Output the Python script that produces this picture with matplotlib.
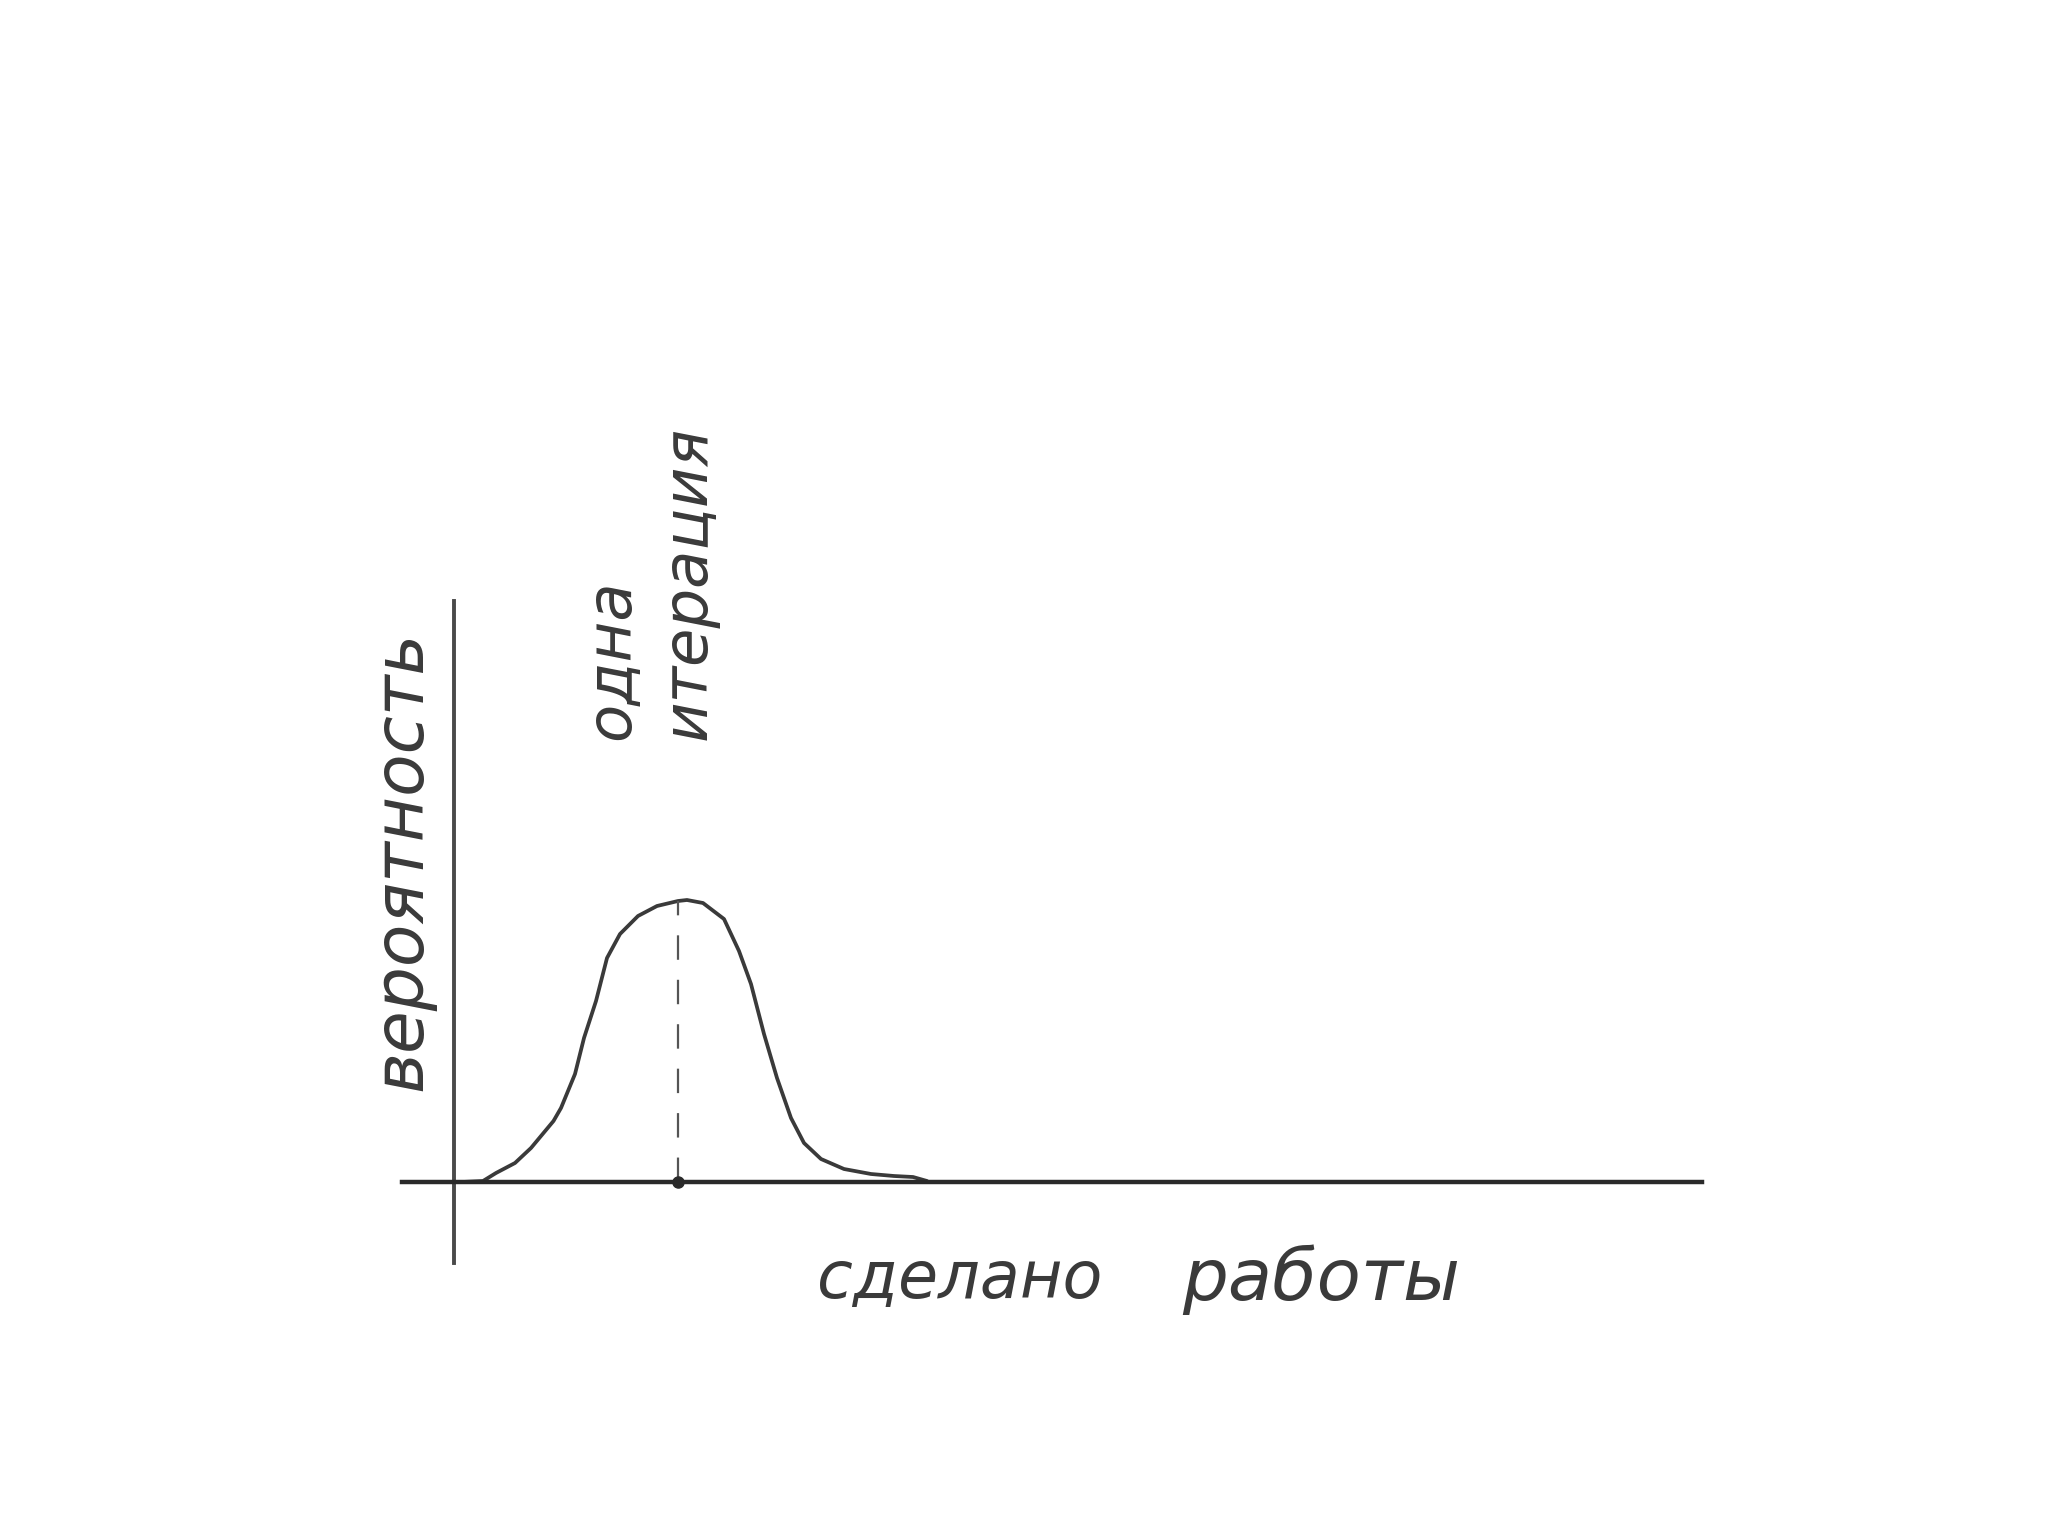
import matplotlib
matplotlib.use("Agg")
import matplotlib.pyplot as plt

# units are pixels from the origin
work_done = [8, 29, 42, 61, 77, 99.5, 107, 121, 130, 142, 153, 166, 184, 203, 224, 233, 249,
             270, 285, 297, 310, 323, 337, 350, 367, 390, 417, 440, 459, 473]
probability = [0, 1, 9, 19, 34, 61, 74, 108, 144, 181, 224, 248, 266, 276, 281, 282, 279,
               263, 231, 198, 148, 104, 64, 39, 23, 13, 8, 6, 5, 1]
iteration_x = 224
iteration_y = 281

INK = '#3a3a3a'
W, H = 2048, 1536

fig = plt.figure(figsize=(W / 100, H / 100), dpi=100)
ax = fig.add_axes([402 / W, (H - 1263) / H, 1300 / W, 662 / H])
ax.set_xlim(-52, 1248)
ax.set_ylim(-81, 581)

ax.spines['top'].set_visible(False)
ax.spines['right'].set_visible(False)
ax.spines['left'].set_position(('data', 0))
ax.spines['bottom'].set_position(('data', 0))
ax.spines['left'].set_color('#4a4a4a')
ax.spines['bottom'].set_color('#2a2a2a')
ax.spines['left'].set_linewidth(2.8)
ax.spines['bottom'].set_linewidth(3.2)
ax.set_xticks([])
ax.set_yticks([])

ax.plot(work_done, probability, color=INK, lw=2.7, solid_capstyle='round', clip_on=False)
ax.plot([iteration_x, iteration_x], [0, iteration_y], color='#555555', lw=1.6,
        dashes=(11, 9))
ax.plot([iteration_x], [0], 'o', color='#2a2a2a', ms=8)

font = dict(family='DejaVu Sans', style='oblique', color=INK, clip_on=False)
ax.text(-52, 321, 'вероятность', rotation=90, ha='center', va='center', fontsize=50, **font)
ax.text(196, 442, 'одна\nитерация', rotation=90, ha='center', va='bottom', ma='left',
        fontsize=45, linespacing=1.35, **font)
ax.text(506, -98, 'сделано', ha='center', va='center', fontsize=47, **font)
ax.text(867, -98, 'работы', ha='center', va='center', fontsize=52, **font)

fig.savefig('out.png', dpi=100)
